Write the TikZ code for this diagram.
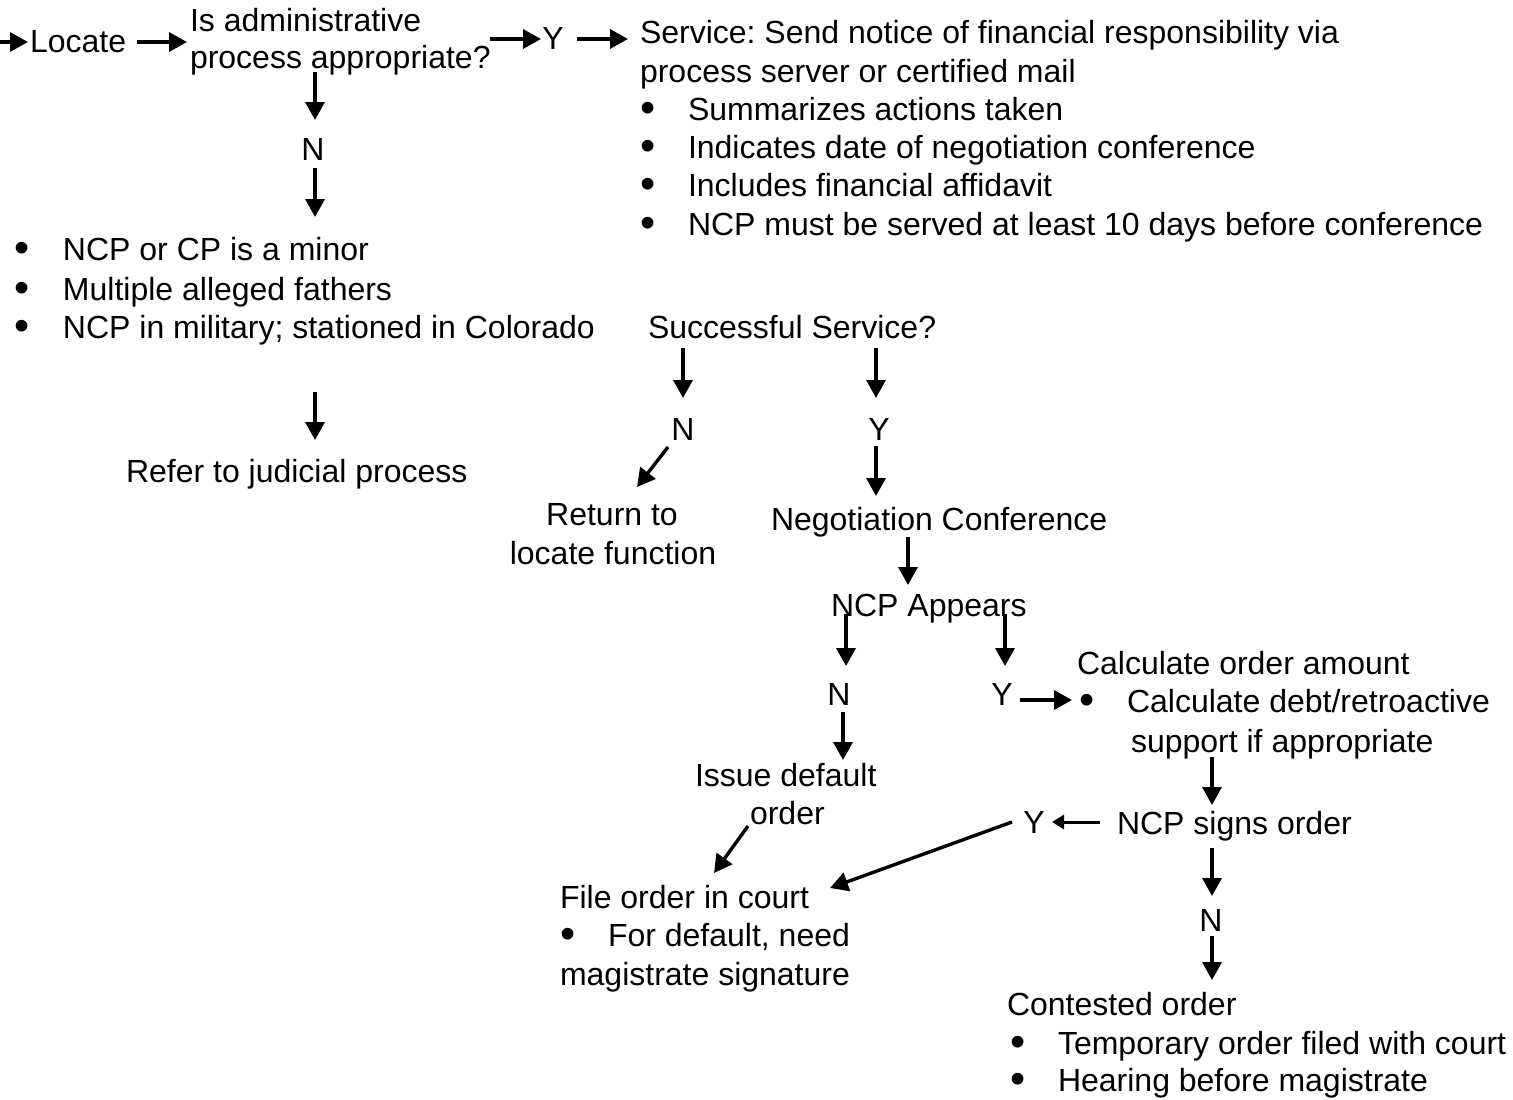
\documentclass[tikz,border=0pt]{standalone}
\usepackage{fontspec}
\usepackage{graphicx}
\setmainfont{Liberation Sans}
\usetikzlibrary{arrows.meta}
\frenchspacing
\newcommand\bigdot{\smash{\raisebox{-1.3pt}{\scalebox{1.35}{•}}}}
\newcommand\bul{\makebox[24pt][l]{\bigdot}}
\tikzset{
  t/.style={inner sep=0pt, outer sep=0pt, font=\fontsize{16pt}{19pt}\selectfont},
  tl/.style={t, anchor=base west},
  tc/.style={t, anchor=base},
  arr/.style={line width=1.7pt, -{Triangle[length=9pt,width=9.5pt]}},
  sarr/.style={line width=1.5pt, -{Triangle[length=6pt,width=7pt]}}
}
\begin{document}
\begin{tikzpicture}[x=0.5pt,y=-0.5pt]
\useasboundingbox (0,0) rectangle (1513,1099);
% texts
\node[tl] (loc) at (30,52) {Locate};
\node[tl] (is1) at (190,31) {Is administrative};
\node[tl] (is2) at (190,68) {process appropriate?};
\node[tc] (y1) at (553,49) {Y};
\node[tl] (svc1) at (640,43) {Service: Send notice of financial responsibility via};
\node[tl] (svc2) at (640,82) {process server or certified mail};
\node[tl] (svb1) at (640,120) {\bul Summarizes actions taken};
\node[tl] (svb2) at (640,158) {\bul Indicates date of negotiation conference};
\node[tl] (svb3) at (640,196) {\bul Includes financial affidavit};
\node[tl] (svb4) at (640,235) {\bul NCP must be served at least 10 days before conference};
\node[tc] (n1) at (313,160) {N};
\node[tl] (lb1) at (14,260) {\makebox[24.5pt][l]{\bigdot}NCP or CP is a minor};
\node[tl] (lb2) at (14,300) {\makebox[24.5pt][l]{\bigdot}Multiple alleged fathers};
\node[tl] (lb3) at (14,338) {\makebox[24.5pt][l]{\bigdot}NCP in military; stationed in Colorado};
\node[tl] (refer) at (126,482) {Refer to judicial process};
\node[tl] (succ) at (648,338) {Successful Service?};
\node[tc] (n2) at (683,440) {N};
\node[tc] (y2) at (879,440) {Y};
\node[tc] (ret1) at (612,525) {Return to};
\node[tc] (ret2) at (613,564) {locate function};
\node[tl] (neg) at (771,530) {Negotiation Conference};
\node[tl] (app) at (831,616) {NCP Appears};
\node[tc] (n3) at (839,705) {N};
\node[tc] (y3) at (1002,705) {Y};
\node[tl] (calc) at (1077,674) {Calculate order amount};
\node[tl] (calcb) at (1079,712) {\bul Calculate debt/retroactive};
\node[tl] (calc2) at (1131,752) {support if appropriate};
\node[tl] (iss1) at (695,786) {Issue default};
\node[tl] (iss2) at (750,824) {order};
\node[tc] (y4) at (1034,833) {Y};
\node[tl] (signs) at (1117,834) {NCP signs order};
\node[tl] (file) at (560,908) {File order in court};
\node[tl] (fileb) at (560,946) {\bul For default, need};
\node[tl] (file2) at (560,985) {magistrate signature};
\node[tc] (n5) at (1211,931) {N};
\node[tl] (cont) at (1007,1015) {Contested order};
\node[tl] (contb1) at (1010,1054) {\bul Temporary order filed with court};
\node[tl] (contb2) at (1010,1091) {\bul Hearing before magistrate};
% arrow end points
\coordinate (a1s) at (0,42);    \coordinate (a1e) at (28,42);
\coordinate (a2s) at (137,42);  \coordinate (a2e) at (187,42);
\coordinate (a3s) at (490,39);  \coordinate (a3e) at (541,39);
\coordinate (a4s) at (577,39);  \coordinate (a4e) at (628,39);
\coordinate (a5s) at (315,72);  \coordinate (a5e) at (315,120);
\coordinate (a6s) at (315,168); \coordinate (a6e) at (315,217);
\coordinate (a7s) at (315,392); \coordinate (a7e) at (315,440);
\coordinate (a8s) at (683,348); \coordinate (a8e) at (683,398);
\coordinate (a9s) at (876,348); \coordinate (a9e) at (876,398);
\coordinate (a10s) at (668,447); \coordinate (a10e) at (637,487);
\coordinate (a11s) at (876,446); \coordinate (a11e) at (876,496);
\coordinate (a12s) at (908,537); \coordinate (a12e) at (908,585);
\coordinate (a13s) at (846,614); \coordinate (a13e) at (846,666);
\coordinate (a14s) at (1005,614); \coordinate (a14e) at (1005,666);
\coordinate (a15s) at (843,712); \coordinate (a15e) at (843,760);
\coordinate (a16s) at (1020,700); \coordinate (a16e) at (1072,700);
\coordinate (a17s) at (1212,757); \coordinate (a17e) at (1212,805);
\coordinate (a18s) at (1100,822); \coordinate (a18e) at (1052,822);
\coordinate (a19s) at (1012,822); \coordinate (a19e) at (830,888);
\coordinate (a20s) at (748,826); \coordinate (a20e) at (714,873);
\coordinate (a21s) at (1212,848); \coordinate (a21e) at (1212,896);
\coordinate (a22s) at (1212,936); \coordinate (a22e) at (1212,980);
% arrows
\foreach \i in {1,2,3,4,5,6,7,8,9,10,11,12,13,14,15,16,17,19,20,21,22}
  \draw[arr] (a\i s) -- (a\i e);
\draw[sarr] (a18s) -- (a18e);
\end{tikzpicture}
\end{document}
